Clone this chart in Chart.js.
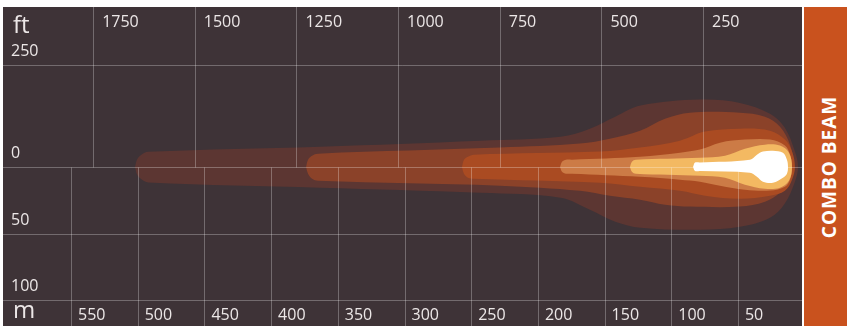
<!DOCTYPE html>
<html>
<head>
<meta charset="utf-8">
<script src="https://cdn.jsdelivr.net/npm/chart.js"></script>
<style>
  body { margin: 0; background: #fff; width: 847px; height: 326px; overflow: hidden; position: relative; font-family: 'Open Sans', sans-serif; }
  #wrap { position: absolute; left: 3px; top: 7px; width: 799px; height: 319px; }
  #band { position: absolute; left: 804px; top: 7px; width: 43px; height: 319px; background: #c9521e; }
  #band span { position: absolute; left: 24.5px; top: 50%; transform: translate(-50%, -50%) rotate(-90deg);
    color: #fff; font-weight: 700; font-size: 19px; letter-spacing: 1px; white-space: nowrap; }
</style>
</head>
<body>
<div id="wrap"><canvas id="beamChart"></canvas></div>
<div id="band"><span>COMBO BEAM</span></div>
<script>
// distância (m) e largura lateral (m) de cada zona do feixe, da mais fraca à mais forte
const zone1Dist = [502, 500.5, 497.5, 492, 363, 243, 183, 161, 142, 123, 78.5, 48.5, 26, 15, 7.3, 5];
const zone1Up   = [0, 5.6, 9, 11.4, 15.2, 19.7, 22.7, 28.7, 37.7, 46, 50.5, 48, 39.8, 29.5, 11.5, 0];
const zone1Low  = [0, -5.6, -9, -11.6, -15.5, -19.3, -23, -32, -41, -45.5, -47, -44.8, -38, -27.5, -11, 0];

const zone2Dist = [373.8, 372.3, 369.3, 364.8, 228.4, 168.4, 146, 123.4, 104.7, 86, 48.5, 29.8, 18.5, 11, 8];
const zone2Up   = [0, 5.5, 8.5, 10, 14.5, 17.5, 21.2, 27.2, 36.2, 40.7, 40.7, 37.7, 30.2, 16.7, 0];
const zone2Low  = [0, -5, -8.8, -10.3, -14, -17.8, -21.5, -24.5, -28.3, -29.7, -29.7, -26, -19.3, -11, 0];

const zone3Dist = [256.9, 255.4, 252.4, 247.9, 153.5, 123.4, 93.5, 74.7, 48.5, 26, 14.8, 9.5, 7.3];
const zone3Up   = [0, 5.5, 7.7, 9.2, 11.5, 14.5, 19.7, 26.5, 28.7, 27.2, 20.5, 11.5, 0];
const zone3Low  = [0, -5, -8, -8.8, -11.8, -14.8, -17.8, -21.5, -23.8, -21.5, -17.8, -9.5, 0];

const zone4Dist = [183.4, 181.9, 178.9, 174.4, 123.4, 93.5, 78.5, 63.5, 44.8, 26, 14.8, 11, 9.5];
const zone4Up   = [0, 4, 5.5, 5.5, 7.7, 10.7, 13, 18.2, 20.5, 20.5, 16, 9.2, 0];
const zone4Low  = [0, -3.5, -5, -5, -7.3, -9.5, -11, -14, -17, -17.7, -14.8, -9.5, 0];

const zone5Dist = [131, 129.5, 126.5, 78.5, 59.7, 44.8, 29.8, 18.5, 11.8, 9.5];
const zone5Up   = [0, 4, 5.5, 7, 8.5, 13.7, 16.7, 16, 10.7, 0];
const zone5Low  = [0, -3.5, -5, -6.5, -8, -13.3, -16.3, -15.5, -10.3, 0];

const zone6Dist = [83.7, 82.2, 78.5, 41, 35.8, 31.3, 23.8, 16.3, 13.3, 12.5];
const zone6Up   = [0, 3.3, 3.4, 5.5, 9.2, 11.5, 12.2, 10.7, 5.5, 0];
const zone6Low  = [0, -3, -3, -4.3, -7.3, -11, -11.8, -8, -5, 0];

// eixos
const ftTicks = [1750, 1500, 1250, 1000, 750, 500, 250];
const mTicks = [550, 500, 450, 400, 350, 300, 250, 200, 150, 100, 50];
const sideLabels = ['250', '0', '50', '100'];
const sideValues = [250 * 0.3048, 0, -50, -100];

const zones = [
  { dist: zone1Dist, up: zone1Up, low: zone1Low, color: '#5c3632' },
  { dist: zone2Dist, up: zone2Up, low: zone2Low, color: '#8b4229' },
  { dist: zone3Dist, up: zone3Up, low: zone3Low, color: '#aa4b22' },
  { dist: zone4Dist, up: zone4Up, low: zone4Low, color: '#cc7b46' },
  { dist: zone5Dist, up: zone5Up, low: zone5Low, color: '#f3b962' },
  { dist: zone6Dist, up: zone6Up, low: zone6Low, color: '#ffffff' }
];

function outline(dist, up, low) {
  const pts = dist.map((d, i) => ({ x: d, y: up[i] }));
  for (let i = dist.length - 2; i >= 0; i--) pts.push({ x: dist[i], y: low[i] });
  return pts;
}

const gridColor = 'rgba(255, 255, 255, 0.28)';
const textColor = '#ece7e7';

const beamPlugin = {
  id: 'beamGrid',
  beforeDraw(chart) {
    const { ctx, chartArea: a } = chart;
    ctx.save();
    ctx.fillStyle = '#3e3337';
    ctx.fillRect(a.left, a.top, a.right - a.left, a.bottom - a.top);
    ctx.restore();
  },
  afterDatasetsDraw(chart) {
    const { ctx, chartArea: a, scales: { x, y } } = chart;
    const y0 = Math.round(y.getPixelForValue(0)) + 0.5;
    ctx.save();
    ctx.strokeStyle = gridColor;
    ctx.lineWidth = 1;
    ctx.beginPath();
    ftTicks.forEach(ft => {
      const px = Math.round(x.getPixelForValue(ft * 0.3048)) + 0.5;
      ctx.moveTo(px, a.top); ctx.lineTo(px, y0);
    });
    mTicks.forEach(m => {
      const px = Math.round(x.getPixelForValue(m)) + 0.5;
      ctx.moveTo(px, y0); ctx.lineTo(px, a.bottom);
    });
    sideValues.forEach(v => {
      const py = Math.round(y.getPixelForValue(v)) + 0.5;
      ctx.moveTo(a.left, py); ctx.lineTo(a.right, py);
    });
    ctx.stroke();

    ctx.fillStyle = textColor;
    ctx.textBaseline = 'alphabetic';
    ctx.textAlign = 'left';
    ctx.font = '16px "Open Sans"';
    ftTicks.forEach(ft => {
      ctx.fillText(String(ft), x.getPixelForValue(ft * 0.3048) + 9, a.top + 20);
    });
    mTicks.forEach(m => {
      ctx.fillText(String(m), x.getPixelForValue(m) + 7, a.bottom - 6);
    });
    sideValues.forEach((v, i) => {
      ctx.fillText(sideLabels[i], a.left + 8, y.getPixelForValue(v) - 9);
    });
    ctx.font = '24px "Open Sans"';
    ctx.fillText('ft', a.left + 10, a.top + 26);
    ctx.fillText('m', a.left + 10, a.bottom - 8);
    ctx.restore();
  }
};

const beamChart = new Chart(document.getElementById('beamChart'), {
  type: 'line',
  data: {
    datasets: zones.map((z, i) => ({
      data: outline(z.dist, z.up, z.low),
      backgroundColor: z.color,
      borderColor: 'transparent',
      borderWidth: 0,
      pointRadius: 0,
      tension: 0.35,
      fill: 'shape',
      order: zones.length - i
    }))
  },
  options: {
    responsive: true,
    maintainAspectRatio: false,
    animation: false,
    layout: { padding: 0 },
    plugins: {
      legend: { display: false },
      tooltip: { enabled: false }
    },
    scales: {
      x: { type: 'linear', reverse: true, min: 2, max: 601, display: false },
      y: { type: 'linear', min: -119.2, max: 119.9, display: false }
    }
  },
  plugins: [beamPlugin]
});
</script>
</body>
</html>
